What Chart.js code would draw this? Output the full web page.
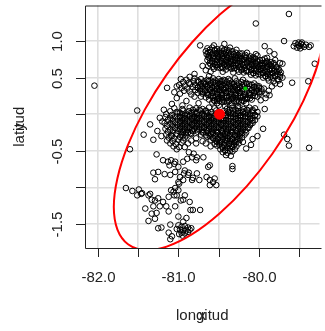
<!DOCTYPE html>
<html>
<head>
<meta charset="utf-8">
<script src="https://cdn.jsdelivr.net/npm/chart.js@4.4.1/dist/chart.umd.min.js"></script>
<style>
  html, body { margin: 0; padding: 0; background: #fff; }
  canvas { display: block; }
</style>
</head>
<body>
<canvas id="grafico" width="325" height="331"></canvas>
<script>
const xTicks = [-82, -81.5, -81, -80.5, -80, -79.5]
const xTickLabels = ['-82.0', '', '-81.0', '', '-80.0', '']
const yTicks = [-1.5, -1, -0.5, 0, 0.5, 1]
const yTickLabels = ['-1.5', '', '-0.5', '', '0.5', '1.0']
const xRange = [-82.157, -79.251]
const yRange = [-1.83, 1.486]

const centro = [[-80.49, 0.0]]
const puntoVerde = [[-80.17, 0.35]]

// banda superior (lon, lat)
const bandaNorte = [
    [-80.64,0.90],[-80.58,0.91],[-80.52,0.89],[-80.46,0.90],[-80.40,0.88],
    [-80.66,0.86],[-80.61,0.85],[-80.55,0.87],[-80.50,0.85],[-80.44,0.86],[-80.38,0.84],[-80.33,0.86],
    [-80.65,0.82],[-80.59,0.81],[-80.54,0.83],[-80.48,0.81],[-80.43,0.82],[-80.37,0.80],[-80.31,0.82],[-80.26,0.81],[-80.21,0.83],
    [-80.63,0.78],[-80.57,0.77],[-80.51,0.79],[-80.46,0.77],[-80.40,0.78],[-80.35,0.76],[-80.29,0.78],[-80.24,0.77],[-80.18,0.79],[-80.12,0.77],[-80.07,0.78],
    [-80.64,0.74],[-80.58,0.73],[-80.52,0.75],[-80.47,0.73],[-80.41,0.74],[-80.35,0.72],[-80.30,0.74],[-80.24,0.73],[-80.19,0.75],[-80.13,0.73],[-80.08,0.74],[-80.02,0.72],[-79.96,0.74],[-79.91,0.72],
    [-80.61,0.70],[-80.55,0.69],[-80.49,0.71],[-80.43,0.69],[-80.38,0.70],[-80.32,0.68],[-80.27,0.70],[-80.21,0.69],[-80.15,0.71],[-80.10,0.69],[-80.04,0.70],[-79.99,0.68],[-79.93,0.70],[-79.88,0.69],[-79.82,0.70],
    [-80.63,0.66],[-80.57,0.65],[-80.52,0.67],[-80.46,0.65],[-80.40,0.66],[-80.35,0.64],[-80.29,0.66],[-80.23,0.65],[-80.18,0.67],[-80.12,0.65],[-80.07,0.66],[-80.01,0.64],[-79.96,0.66],[-79.90,0.65],[-79.85,0.66],[-79.79,0.64],
    [-80.56,0.62],[-80.48,0.63],[-80.41,0.61],[-80.34,0.62],[-80.27,0.61],[-80.21,0.62],[-80.15,0.60],[-80.09,0.62],[-80.04,0.61],[-79.98,0.62],[-79.93,0.60],[-79.87,0.62],[-79.81,0.61],[-79.76,0.62],
    [-80.25,0.58],[-80.19,0.57],[-80.13,0.58],[-80.07,0.56],[-80.01,0.58],[-79.95,0.57],[-79.90,0.58],[-79.84,0.56],[-79.78,0.58],[-79.73,0.57],
    [-80.10,0.54],[-80.04,0.53],[-79.98,0.54],[-79.92,0.52],[-79.86,0.54],[-79.80,0.53],[-79.74,0.54],
    [-79.95,0.50],[-79.89,0.49],[-79.83,0.50],[-79.77,0.48],[-79.71,0.50],
    [-79.88,0.46],[-79.82,0.45],[-79.76,0.46],
    [-79.80,0.42],[-79.74,0.41],
]
const rellenoNorte = [
    [-80.61,0.88],[-80.55,0.88],[-80.49,0.87],[-80.43,0.88],[-80.37,0.87],
    [-80.63,0.84],[-80.58,0.83],[-80.52,0.84],[-80.47,0.83],[-80.41,0.84],[-80.35,0.82],[-80.29,0.84],[-80.24,0.83],
    [-80.62,0.80],[-80.56,0.79],[-80.51,0.80],[-80.45,0.79],[-80.40,0.80],[-80.34,0.78],[-80.28,0.80],[-80.23,0.79],[-80.17,0.81],[-80.11,0.79],
    [-80.61,0.76],[-80.55,0.75],[-80.49,0.76],[-80.44,0.75],[-80.38,0.76],[-80.32,0.74],[-80.27,0.76],[-80.21,0.75],[-80.16,0.77],[-80.10,0.75],[-80.05,0.76],[-79.99,0.74],[-79.93,0.76],
    [-80.58,0.72],[-80.52,0.71],[-80.46,0.72],[-80.40,0.71],[-80.35,0.72],[-80.29,0.70],[-80.24,0.72],[-80.18,0.71],[-80.12,0.73],[-80.07,0.71],[-80.01,0.72],[-79.96,0.70],[-79.90,0.72],[-79.85,0.71],
    [-80.60,0.68],[-80.54,0.67],[-80.49,0.68],[-80.43,0.67],[-80.37,0.68],[-80.32,0.66],[-80.26,0.68],[-80.20,0.67],[-80.15,0.69],[-80.09,0.67],[-80.04,0.68],[-79.98,0.66],[-79.93,0.68],[-79.87,0.67],[-79.82,0.68],
    [-80.52,0.64],[-80.45,0.63],[-80.38,0.64],[-80.31,0.63],[-80.24,0.64],[-80.18,0.63],[-80.12,0.64],[-80.06,0.62],[-80.01,0.64],[-79.95,0.63],[-79.90,0.64],[-79.84,0.62],[-79.78,0.64],
    [-80.22,0.60],[-80.16,0.59],[-80.10,0.60],[-80.04,0.59],[-79.98,0.60],[-79.92,0.58],[-79.87,0.60],[-79.81,0.59],[-79.75,0.60],
    [-80.07,0.56],[-80.01,0.55],[-79.95,0.56],[-79.89,0.55],[-79.83,0.56],[-79.77,0.55],
    [-79.92,0.52],[-79.86,0.51],[-79.80,0.52],[-79.74,0.51],
]

// banda central
const bandaCentral = [
    [-80.97,0.48],[-80.90,0.47],[-80.80,0.49],[-80.72,0.48],[-80.64,0.47],[-80.57,0.49],[-80.50,0.48],[-80.44,0.47],[-80.38,0.48],
    [-80.94,0.44],[-80.87,0.43],[-80.81,0.45],[-80.75,0.44],[-80.69,0.43],[-80.63,0.45],[-80.57,0.44],[-80.51,0.43],[-80.46,0.45],[-80.40,0.44],[-80.34,0.43],[-80.28,0.45],[-80.22,0.44],[-80.16,0.43],
    [-80.99,0.40],[-80.92,0.39],[-80.85,0.41],[-80.79,0.40],[-80.73,0.39],[-80.67,0.41],[-80.61,0.40],[-80.55,0.39],[-80.50,0.41],[-80.44,0.40],[-80.38,0.39],[-80.33,0.41],[-80.27,0.40],[-80.21,0.39],[-80.15,0.41],[-80.09,0.40],[-80.03,0.39],
    [-80.96,0.36],[-80.89,0.35],[-80.82,0.37],[-80.76,0.36],[-80.70,0.35],[-80.64,0.37],[-80.58,0.36],[-80.52,0.35],[-80.47,0.37],[-80.41,0.36],[-80.35,0.35],[-80.30,0.37],[-80.24,0.36],[-80.12,0.35],[-80.06,0.37],[-80.00,0.36],[-79.94,0.35],
    [-80.93,0.32],[-80.86,0.31],[-80.79,0.33],[-80.73,0.32],[-80.67,0.31],[-80.61,0.33],[-80.55,0.32],[-80.49,0.31],[-80.44,0.33],[-80.38,0.32],[-80.32,0.31],[-80.27,0.33],[-80.21,0.32],[-80.15,0.31],[-80.09,0.33],[-80.03,0.32],[-79.97,0.31],
    [-80.98,0.28],[-80.84,0.27],[-80.76,0.29],[-80.70,0.28],[-80.64,0.27],[-80.58,0.29],[-80.52,0.28],[-80.46,0.27],[-80.41,0.29],[-80.35,0.28],[-80.29,0.27],[-80.24,0.29],[-80.18,0.28],[-80.12,0.27],[-80.06,0.29],[-79.99,0.28],[-79.91,0.27],
    [-80.72,0.24],[-80.66,0.23],[-80.60,0.25],[-80.54,0.24],[-80.49,0.23],[-80.43,0.25],[-80.37,0.24],[-80.32,0.23],[-80.26,0.25],[-80.20,0.24],[-80.14,0.23],[-80.08,0.25],[-80.02,0.24],
    [-80.62,0.20],[-80.56,0.19],[-80.50,0.21],[-80.45,0.20],[-80.39,0.19],[-80.33,0.21],[-80.27,0.20],[-80.21,0.19],[-80.15,0.21],[-80.09,0.20],[-79.98,0.19],
    [-80.58,0.16],[-80.52,0.15],[-80.46,0.17],[-80.40,0.16],[-80.34,0.15],[-80.28,0.17],[-80.22,0.16],[-80.16,0.15],
    [-80.50,0.12],[-80.42,0.11],[-80.34,0.12],[-80.26,0.11],
]
const rellenoCentral = [
    [-80.76,0.46],[-80.68,0.45],[-80.60,0.46],[-80.54,0.46],[-80.48,0.45],[-80.42,0.46],[-80.36,0.46],
    [-80.72,0.42],[-80.66,0.41],[-80.60,0.42],[-80.54,0.42],[-80.48,0.41],[-80.43,0.42],[-80.37,0.42],[-80.31,0.41],[-80.25,0.42],[-80.19,0.42],[-80.12,0.41],[-80.06,0.42],
    [-80.76,0.37],[-80.70,0.38],[-80.64,0.38],[-80.58,0.37],[-80.52,0.38],[-80.47,0.38],[-80.41,0.37],[-80.35,0.38],[-80.30,0.38],[-80.24,0.37],[-80.18,0.38],[-80.12,0.38],[-80.06,0.37],[-80.00,0.38],
    [-80.73,0.34],[-80.67,0.33],[-80.61,0.34],[-80.55,0.34],[-80.49,0.33],[-80.44,0.34],[-80.38,0.34],[-80.32,0.33],[-80.27,0.34],[-80.21,0.34],[-80.09,0.33],[-80.03,0.34],[-79.97,0.34],
    [-80.70,0.30],[-80.64,0.29],[-80.58,0.30],[-80.52,0.30],[-80.46,0.29],[-80.41,0.30],[-80.35,0.30],[-80.29,0.29],[-80.24,0.30],[-80.18,0.30],[-80.12,0.29],[-80.06,0.30],[-80.00,0.30],
    [-80.63,0.26],[-80.57,0.25],[-80.51,0.26],[-80.46,0.26],[-80.40,0.25],[-80.34,0.26],[-80.29,0.26],[-80.23,0.25],[-80.17,0.26],[-80.11,0.26],[-80.05,0.25],
    [-80.57,0.22],[-80.52,0.21],[-80.46,0.22],[-80.40,0.22],[-80.35,0.21],[-80.29,0.22],[-80.23,0.22],[-80.17,0.21],[-80.11,0.22],
    [-80.55,0.18],[-80.49,0.18],[-80.43,0.17],[-80.37,0.18],[-80.31,0.18],[-80.25,0.17],[-80.19,0.18],
]

// nucleo alrededor del centro
const nucleo = [
    [-81.05,0.08],[-80.95,0.07],[-80.86,0.09],[-80.78,0.08],[-80.70,0.07],[-80.62,0.09],[-80.55,0.08],[-80.40,0.07],[-80.33,0.09],[-80.26,0.08],[-80.19,0.07],[-80.12,0.09],[-80.05,0.08],
    [-81.10,0.04],[-81.02,0.03],[-80.94,0.05],[-80.87,0.04],[-80.80,0.03],[-80.73,0.05],[-80.66,0.04],[-80.59,0.03],[-80.53,0.05],[-80.44,0.04],[-80.38,0.03],[-80.32,0.05],[-80.26,0.04],[-80.20,0.03],[-80.14,0.05],[-80.08,0.04],[-80.02,0.03],
    [-81.15,0.00],[-81.08,-0.01],[-81.01,0.01],[-80.95,0.00],[-80.89,-0.01],[-80.83,0.01],[-80.77,0.00],[-80.71,-0.01],[-80.65,0.01],[-80.59,0.00],[-80.41,-0.01],[-80.35,0.01],[-80.29,0.00],[-80.23,-0.01],[-80.17,0.01],[-80.11,0.00],[-80.05,-0.01],
    [-81.16,-0.04],[-81.10,-0.05],[-81.04,-0.03],[-80.98,-0.04],[-80.92,-0.05],[-80.86,-0.03],[-80.80,-0.04],[-80.74,-0.05],[-80.68,-0.03],[-80.62,-0.04],[-80.56,-0.05],[-80.50,-0.06],[-80.44,-0.05],[-80.38,-0.03],[-80.32,-0.04],[-80.26,-0.05],[-80.20,-0.03],[-80.14,-0.04],[-80.08,-0.05],[-80.02,-0.03],
    [-81.13,-0.08],[-81.07,-0.09],[-81.01,-0.07],[-80.95,-0.08],[-80.89,-0.09],[-80.83,-0.07],[-80.77,-0.08],[-80.71,-0.09],[-80.65,-0.07],[-80.59,-0.08],[-80.53,-0.09],[-80.47,-0.07],[-80.41,-0.08],[-80.35,-0.09],[-80.29,-0.07],[-80.23,-0.08],[-80.17,-0.09],[-80.11,-0.07],[-80.05,-0.08],
    [-81.17,-0.12],[-81.10,-0.13],[-81.04,-0.11],[-80.98,-0.12],[-80.92,-0.13],[-80.86,-0.11],[-80.80,-0.12],[-80.74,-0.13],[-80.68,-0.11],[-80.62,-0.12],[-80.56,-0.13],[-80.50,-0.11],[-80.44,-0.12],[-80.38,-0.13],[-80.32,-0.11],[-80.26,-0.12],[-80.20,-0.13],[-80.14,-0.11],[-80.08,-0.12],
    [-81.14,-0.16],[-81.07,-0.17],[-81.01,-0.15],[-80.95,-0.16],[-80.89,-0.17],[-80.83,-0.15],[-80.77,-0.16],[-80.71,-0.17],[-80.65,-0.15],[-80.59,-0.16],[-80.53,-0.17],[-80.47,-0.15],[-80.41,-0.16],[-80.35,-0.17],[-80.29,-0.15],[-80.23,-0.16],[-80.17,-0.17],[-80.11,-0.15],
    [-81.16,-0.20],[-81.10,-0.21],[-81.04,-0.19],[-80.98,-0.20],[-80.92,-0.21],[-80.86,-0.19],[-80.80,-0.20],[-80.74,-0.21],[-80.68,-0.19],[-80.62,-0.20],[-80.56,-0.21],[-80.50,-0.19],[-80.44,-0.20],[-80.38,-0.21],[-80.32,-0.19],[-80.26,-0.20],[-80.20,-0.21],[-80.13,-0.19],
    [-81.13,-0.24],[-81.07,-0.25],[-81.00,-0.23],[-80.94,-0.24],[-80.88,-0.25],[-80.82,-0.23],[-80.76,-0.24],[-80.70,-0.25],[-80.64,-0.23],[-80.58,-0.24],[-80.52,-0.25],[-80.46,-0.23],[-80.40,-0.24],[-80.34,-0.25],[-80.28,-0.23],[-80.22,-0.24],[-80.16,-0.25],
    [-81.15,-0.28],[-81.09,-0.29],[-81.02,-0.27],[-80.96,-0.28],[-80.90,-0.29],[-80.84,-0.27],[-80.72,-0.28],[-80.66,-0.29],[-80.60,-0.27],[-80.54,-0.28],[-80.48,-0.29],[-80.42,-0.27],[-80.36,-0.28],[-80.30,-0.29],[-80.24,-0.27],[-80.18,-0.28],
    [-81.12,-0.32],[-81.05,-0.33],[-80.98,-0.31],[-80.92,-0.32],[-80.78,-0.33],[-80.64,-0.31],[-80.57,-0.32],[-80.51,-0.33],[-80.45,-0.31],[-80.39,-0.32],[-80.33,-0.33],[-80.27,-0.31],[-80.21,-0.32],
    [-81.14,-0.36],[-81.07,-0.37],[-81.00,-0.35],[-80.94,-0.36],[-80.70,-0.37],[-80.60,-0.35],[-80.54,-0.36],[-80.48,-0.37],[-80.42,-0.35],[-80.36,-0.36],[-80.30,-0.37],[-80.24,-0.35],
    [-81.10,-0.40],[-81.03,-0.41],[-80.96,-0.39],[-80.88,-0.40],[-80.55,-0.41],[-80.49,-0.39],[-80.43,-0.40],[-80.37,-0.41],[-80.31,-0.39],[-80.25,-0.40],
    [-81.06,-0.44],[-80.99,-0.45],[-80.52,-0.43],[-80.46,-0.44],[-80.40,-0.45],[-80.34,-0.43],[-80.28,-0.44],
    [-80.48,-0.48],[-80.42,-0.49],[-80.36,-0.47],[-80.30,-0.48],
    [-80.45,-0.52],[-80.39,-0.53],[-80.33,-0.51],
    [-80.41,-0.56],[-80.35,-0.57],
]
const rellenoNucleo = [
    [-80.82,0.06],[-80.74,0.06],[-80.66,0.05],[-80.36,0.06],[-80.29,0.06],[-80.22,0.05],[-80.15,0.06],[-80.08,0.06],
    [-80.98,0.02],[-80.91,0.01],[-80.84,0.02],[-80.77,0.02],[-80.70,0.01],[-80.63,0.02],[-80.38,0.02],[-80.32,0.01],[-80.26,0.02],[-80.20,0.02],[-80.14,0.01],[-80.08,0.02],
    [-80.98,-0.03],[-80.92,-0.02],[-80.86,-0.02],[-80.80,-0.03],[-80.74,-0.02],[-80.68,-0.02],[-80.62,-0.03],[-80.56,-0.02],[-80.41,-0.02],[-80.35,-0.03],[-80.29,-0.02],[-80.23,-0.02],[-80.17,-0.03],[-80.11,-0.02],[-80.05,-0.02],
    [-81.07,-0.06],[-80.95,-0.05],[-80.89,-0.06],[-80.83,-0.06],[-80.77,-0.05],[-80.71,-0.06],[-80.65,-0.06],[-80.59,-0.05],[-80.53,-0.06],[-80.47,-0.06],[-80.41,-0.05],[-80.35,-0.06],[-80.29,-0.06],[-80.23,-0.05],[-80.17,-0.06],[-80.11,-0.06],
    [-80.98,-0.09],[-80.92,-0.10],[-80.86,-0.10],[-80.80,-0.09],[-80.74,-0.10],[-80.68,-0.10],[-80.62,-0.09],[-80.56,-0.10],[-80.50,-0.10],[-80.44,-0.09],[-80.38,-0.10],[-80.32,-0.10],[-80.26,-0.09],[-80.20,-0.10],[-80.14,-0.10],[-80.08,-0.09],
    [-81.07,-0.14],[-80.95,-0.13],[-80.89,-0.14],[-80.83,-0.14],[-80.77,-0.13],[-80.71,-0.14],[-80.65,-0.14],[-80.59,-0.13],[-80.53,-0.14],[-80.47,-0.14],[-80.41,-0.13],[-80.35,-0.14],[-80.29,-0.14],[-80.23,-0.13],[-80.17,-0.14],[-80.11,-0.14],
    [-80.98,-0.17],[-80.92,-0.18],[-80.86,-0.18],[-80.80,-0.17],[-80.74,-0.18],[-80.68,-0.18],[-80.62,-0.17],[-80.56,-0.18],[-80.50,-0.18],[-80.44,-0.17],[-80.38,-0.18],[-80.32,-0.18],[-80.26,-0.17],[-80.20,-0.18],[-80.14,-0.18],
    [-81.07,-0.22],[-80.95,-0.21],[-80.89,-0.22],[-80.83,-0.22],[-80.77,-0.21],[-80.71,-0.22],[-80.65,-0.22],[-80.59,-0.21],[-80.53,-0.22],[-80.47,-0.22],[-80.41,-0.21],[-80.35,-0.22],[-80.29,-0.22],[-80.23,-0.21],[-80.17,-0.22],
    [-80.97,-0.25],[-80.91,-0.26],[-80.85,-0.26],[-80.69,-0.25],[-80.63,-0.26],[-80.57,-0.26],[-80.51,-0.25],[-80.45,-0.26],[-80.39,-0.26],[-80.33,-0.25],[-80.27,-0.26],[-80.21,-0.26],
    [-81.08,-0.30],[-80.94,-0.29],[-80.61,-0.30],[-80.54,-0.30],[-80.48,-0.29],[-80.42,-0.30],[-80.36,-0.30],[-80.30,-0.29],[-80.24,-0.30],
    [-80.57,-0.33],[-80.51,-0.34],[-80.45,-0.34],[-80.39,-0.33],[-80.33,-0.34],[-80.27,-0.34],
    [-80.52,-0.38],[-80.46,-0.38],[-80.40,-0.37],[-80.34,-0.38],[-80.28,-0.38],
    [-80.49,-0.42],[-80.43,-0.42],[-80.37,-0.41],[-80.31,-0.42],
    [-80.45,-0.46],[-80.39,-0.46],[-80.33,-0.45],
    [-80.42,-0.50],[-80.36,-0.50],
]

// puntos dispersos y bordes irregulares
const dispersos = [
    [-82.04,0.39],[-81.51,0.05],[-81.14,0.36],[-81.23,-0.05],[-81.35,-0.14],[-81.26,-0.23],[-81.43,-0.28],[-81.31,-0.35],[-81.60,-0.48],[-81.27,-0.55],[-81.19,-0.63],
    [-81.02,0.22],[-80.90,0.18],[-80.80,0.24],[-80.75,0.15],[-80.95,0.12],[-81.08,0.14],[-81.05,0.30],[-81.02,0.38],
    [-80.73,0.94],[-80.43,0.96],[-80.04,1.24],[-79.63,1.37],[-79.69,1.00],[-79.93,0.93],[-79.87,0.86],[-79.81,0.82],[-80.04,0.82],[-79.71,0.69],[-79.74,0.70],[-79.31,0.69],[-79.39,0.45],[-79.59,0.43],[-80.70,0.66],[-80.80,0.55],
    [-80.56,0.94],[-80.36,0.91],[-80.28,0.88],[-80.15,0.84],[-80.02,0.80],[-79.90,0.77],[-79.80,0.74],
    [-80.66,0.60],[-80.60,0.58],[-80.45,0.58],[-80.32,0.57],
    [-80.86,0.51],[-80.62,0.52],[-80.30,0.49],[-80.20,0.47],
    [-79.88,0.32],[-79.84,0.38],[-79.92,0.22],
    [-81.02,-0.48],[-80.92,-0.45],[-80.84,-0.36],[-80.78,-0.40],[-80.66,-0.40],[-80.60,-0.44],[-80.20,-0.38],
    [-81.20,-0.10],[-81.21,-0.30],[-81.18,0.06],
    [-79.57,0.93],[-79.55,0.97],[-79.52,0.95],[-79.51,0.98],[-79.50,0.93],[-79.48,0.96],[-79.47,0.98],[-79.46,0.94],[-79.53,0.91],[-79.49,0.90],[-79.44,0.92],[-79.42,0.95],[-79.38,0.92],[-79.36,0.94],
    [-79.93,0.07],[-79.95,-0.20],[-80.08,-0.34],[-80.16,-0.47],[-79.69,-0.28],[-79.65,-0.34],[-79.63,-0.43],[-79.38,-0.46],[-79.87,0.26],[-80.02,-0.30],[-80.10,-0.42],
    [-80.87,-0.52],[-80.81,-0.54],[-80.77,-0.59],[-80.69,-0.59],[-80.83,-0.59],[-80.78,-0.63],[-80.89,-0.61],
    [-81.09,-0.63],[-81.11,-0.70],[-81.05,-0.68],[-81.13,-0.65],[-81.04,-0.65],[-81.00,-0.72],[-80.94,-0.65],
    [-80.33,-0.71],[-80.33,-0.75],[-80.63,-0.72],[-80.61,-0.70],
    [-81.25,-0.79],[-81.31,-0.80],[-81.29,-0.89],[-81.17,-0.82],[-81.10,-0.83],[-81.04,-0.79],[-80.98,-0.86],[-81.00,-0.93],[-80.94,-0.90],[-80.88,-0.83],[-80.82,-0.87],[-80.92,-0.77],[-80.93,-0.81],[-80.87,-0.80],[-80.77,-0.81],[-80.83,-0.90],[-80.99,-0.95],[-80.74,-0.90],
    [-80.65,-0.86],[-80.61,-0.90],[-80.57,-0.93],[-80.53,-0.97],[-80.61,-0.97],[-80.55,-0.88],
    [-81.04,-1.01],[-81.06,-1.06],[-81.00,-1.04],[-81.02,-1.11],[-81.09,-1.04],
    [-81.65,-1.01],[-81.57,-1.05],[-81.49,-1.03],[-81.51,-1.11],[-81.45,-1.08],[-81.37,-1.11],[-81.33,-1.17],[-81.25,-1.15],[-81.19,-1.20],[-81.12,-1.13],[-81.41,-1.29],[-81.31,-1.26],[-81.23,-1.26],[-81.15,-1.26],[-81.04,-1.26],[-80.94,-1.17],[-80.92,-1.11],[-80.86,-1.20],[-80.82,-1.31],[-81.27,-1.35],[-81.12,-1.33],[-81.00,-1.40],[-80.90,-1.42],[-81.37,-1.46],[-81.25,-1.56],[-81.21,-1.55],[-81.10,-1.51],[-81.12,-1.62],[-81.08,-1.67],[-81.10,-1.71],
    [-81.46,-1.09],[-81.35,-1.09],[-81.29,-1.18],[-81.33,-1.36],[-81.29,-1.43],[-80.73,-1.31],[-80.85,-1.31],[-80.97,-1.18],[-81.05,-1.11],
    [-81.00,-1.52],[-80.96,-1.54],[-80.92,-1.53],[-80.88,-1.55],[-80.98,-1.58],[-80.94,-1.58],[-80.90,-1.59],[-80.86,-1.58],[-80.96,-1.62],[-80.92,-1.63],[-80.88,-1.61],[-80.95,-1.66],[-80.99,-1.64],[-80.84,-1.56],[-80.94,-1.47],[-81.02,-1.57],
]

// contorno de la elipse
const elipse = [
    [-79.564,1.858],[-79.835,1.811],[-80.151,1.641],[-80.490,1.358],[-80.829,0.983],[-81.145,0.541],
    [-81.416,0.062],[-81.624,-0.421],[-81.755,-0.875],[-81.800,-1.270],[-81.755,-1.579],[-81.624,-1.779],
    [-81.416,-1.858],[-81.145,-1.811],[-80.829,-1.641],[-80.490,-1.358],[-80.151,-0.983],[-79.835,-0.541],
    [-79.564,-0.062],[-79.356,0.421],[-79.225,0.875],[-79.180,1.270],[-79.225,1.579],[-79.356,1.779],
    [-79.564,1.858],
]

const toXY = list => list.map(p => ({x: p[0], y: p[1]}))
const observaciones = [
    ...bandaNorte, ...rellenoNorte,
    ...bandaCentral, ...rellenoCentral,
    ...nucleo, ...rellenoNucleo,
    ...dispersos,
]

const fontR = '15px "Liberation Sans", Arial, sans-serif'

const ejesR = {
    id: 'ejesR',
    afterDraw(chart) {
        const ctx = chart.ctx
        const area = chart.chartArea
        const xs = chart.scales.x
        const ys = chart.scales.y
        ctx.save()
        ctx.strokeStyle = '#222'
        ctx.lineWidth = 1
        ctx.beginPath()
        ctx.moveTo(area.right + 2, area.top + 0.5)
        ctx.lineTo(area.left + 0.5, area.top + 0.5)
        ctx.lineTo(area.left + 0.5, area.bottom + 0.5)
        ctx.lineTo(area.right + 2, area.bottom + 0.5)
        ctx.stroke()

        ctx.fillStyle = '#222'
        ctx.font = fontR
        ctx.textAlign = 'center'
        ctx.textBaseline = 'middle'
        xTicks.forEach((v, i) => {
            const x = Math.round(xs.getPixelForValue(v)) + 0.5
            ctx.beginPath()
            ctx.moveTo(x, area.bottom)
            ctx.lineTo(x, area.bottom + 9)
            ctx.stroke()
            if (xTickLabels[i]) ctx.fillText(xTickLabels[i], x, area.bottom + 30)
        })
        yTicks.forEach((v, i) => {
            const y = Math.round(ys.getPixelForValue(v)) + 0.5
            ctx.beginPath()
            ctx.moveTo(area.left, y)
            ctx.lineTo(area.left - 9, y)
            ctx.stroke()
            if (yTickLabels[i]) {
                ctx.save()
                ctx.translate(area.left - 27, y)
                ctx.rotate(-Math.PI / 2)
                ctx.fillText(yTickLabels[i], 0, 0)
                ctx.restore()
            }
        })

        // titulos (R dejo la x / y por defecto debajo)
        const cx = (area.left + area.right) / 2
        ctx.fillText('longitud', cx, area.bottom + 68)
        ctx.fillText('x', cx, area.bottom + 68)
        const cy = (area.top + area.bottom) / 2
        ctx.save()
        ctx.translate(area.left - 65, cy)
        ctx.rotate(-Math.PI / 2)
        ctx.fillText('latitud', 0, 0)
        ctx.fillText('y', 0, 0)
        ctx.restore()
        ctx.restore()
    },
}

const gridR = {color: '#dedede', lineWidth: 1.6, drawTicks: false}

new Chart(document.getElementById('grafico').getContext('2d'), {
    type: 'scatter',
    plugins: [ejesR],
    data: {
        datasets: [
            {
                data: toXY(centro),
                pointRadius: 5.5,
                pointBackgroundColor: '#ff0000',
                pointBorderColor: '#ff0000',
                pointBorderWidth: 0,
                order: 1,
            },
            {
                data: toXY(puntoVerde),
                pointRadius: 2,
                pointBackgroundColor: '#00cc00',
                pointBorderColor: '#00cc00',
                pointBorderWidth: 0,
                order: 2,
            },
            {
                data: toXY(elipse),
                showLine: true,
                pointRadius: 0,
                borderColor: '#ff0000',
                borderWidth: 2,
                tension: 0.4,
                fill: false,
                clip: 0,
                order: 3,
            },
            {
                data: toXY(observaciones),
                pointRadius: 2.8,
                pointBorderWidth: 1,
                pointBackgroundColor: 'rgba(0,0,0,0)',
                pointBorderColor: '#000',
                order: 4,
            },
        ],
    },
    options: {
        responsive: false,
        animation: false,
        devicePixelRatio: 1,
        layout: {padding: {top: 3, right: 0, left: 0, bottom: 0}},
        plugins: {
            legend: {display: false},
            tooltip: {enabled: false},
        },
        scales: {
            x: {
                type: 'linear',
                min: xRange[0],
                max: xRange[1],
                grid: gridR,
                border: {display: false},
                ticks: {display: false},
                afterBuildTicks: axis => { axis.ticks = xTicks.map(v => ({value: v})) },
                afterFit: axis => { axis.height = 83 },
            },
            y: {
                type: 'linear',
                min: yRange[0],
                max: yRange[1],
                grid: gridR,
                border: {display: false},
                ticks: {display: false},
                afterBuildTicks: axis => { axis.ticks = yTicks.map(v => ({value: v})) },
                afterFit: axis => { axis.width = 85 },
            },
        },
    },
})
</script>
</body>
</html>
